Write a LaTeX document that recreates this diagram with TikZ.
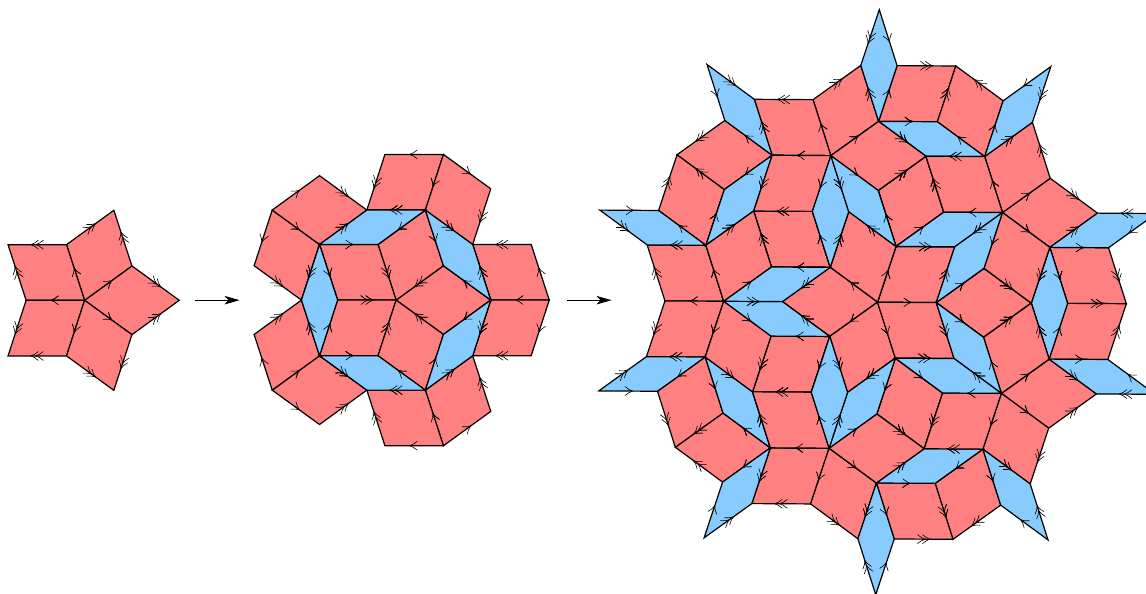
\documentclass[tikz,border=0pt]{standalone}
\usetikzlibrary{arrows.meta}
\definecolor{fatred}{RGB}{255,128,128}
\definecolor{thinblue}{RGB}{136,204,255}
\tikzset{
  tileedge/.style={draw=black,line width=1.2pt,miter limit=10},
  fattile/.style={tileedge,fill=fatred},
  thintile/.style={tileedge,fill=thinblue},
  headline/.style={draw=black,line width=0.6pt,line cap=round},
  stagearrow/.style={draw=black,line width=0.7pt,-{Stealth[length=15pt,width=8.5pt,inset=4pt]}}
}
% one barbed arrow head, its tip at distance #1 (pt) ahead of the origin, pointing along +x
\newcommand\barb[1]{\draw[headline] (#1pt-7.5pt,4.4pt) .. controls (#1pt-5pt,2.2pt) and (#1pt-2.5pt,0.7pt) .. (#1pt,0pt) .. controls (#1pt-2.5pt,-0.7pt) and (#1pt-5pt,-2.2pt) .. (#1pt-7.5pt,-4.4pt);}
\newcommand\sarrow[3]{\begin{scope}[shift={(#1,#2)},rotate=#3]\barb{4.5}\end{scope}}
\newcommand\darrow[3]{\begin{scope}[shift={(#1,#2)},rotate=#3]\barb{6.5}\barb{1.5}\end{scope}}
\newcommand\Fz{%
  \path[fattile] (0,0)--(.809017,.587785)--(1.618034,0)--(.809017,-.587785)--cycle;
  \sarrow{.404508}{.293893}{36}\sarrow{.404508}{-.293893}{-36}%
  \darrow{1.213525}{.293893}{-36}\darrow{1.213525}{-.293893}{36}}
\newcommand\Tz{%
  \path[thintile] (0,0)--(.309017,.951057)--(.618034,0)--(.309017,-.951057)--cycle;
  \sarrow{.154508}{.475528}{252}\sarrow{.154508}{-.475528}{108}%
  \darrow{.463525}{.475528}{-72}\darrow{.463525}{-.475528}{72}}
\newcommand\tileat[4]{\begin{scope}[shift={(#1:#2)},rotate=#3]#4\end{scope}}
\newcommand\subF[3]{%
  \tileat{0}{1.618034*#3}{180}{#1}%
  \tileat{0}{2.618034*#3}{144}{#1}%
  \tileat{0}{2.618034*#3}{-144}{#1}%
  \tileat{36}{#3}{36}{#2}%
  \tileat{-36}{#3}{-36}{#2}}
\newcommand\subT[3]{%
  \tileat{0}{#3}{108}{#1}%
  \tileat{0}{#3}{-108}{#1}%
  \tileat{72}{.618034*#3}{252}{#2}%
  \tileat{-72}{.618034*#3}{-252}{#2}}
\newcommand\Fone{\subF{\Fz}{\Tz}{1}}
\newcommand\Tone{\subT{\Fz}{\Tz}{1}}
\newcommand\Ftwo{\subF{\Fone}{\Tone}{1.618034}}
\newcommand\starof[1]{\foreach \k in {0,1,2,3,4}{\tileat{0}{0}{72*\k}{#1}}}
\begin{document}
\begin{tikzpicture}[x=1pt,y=1pt]
  \useasboundingbox (0,0) rectangle (1146,594);
  \clip (0,0) rectangle (1146,594);
  \begin{scope}[shift={(84.6pt,293.7pt)},x=58.5pt,y=58.5pt]\starof{\Fz}\end{scope}
  \begin{scope}[shift={(396.1pt,293.9pt)},x=58.5pt,y=58.5pt]\starof{\Fone}\end{scope}
  \begin{scope}[shift={(877.5pt,291.8pt)},rotate=-0.35,x=58.75pt,y=58.75pt]\starof{\Ftwo}\end{scope}
  \coordinate (a1) at (195,293.8);
  \coordinate (a2) at (239.5,293.8);
  \coordinate (b1) at (567,293.8);
  \coordinate (b2) at (611.5,293.8);
  \draw[stagearrow] (a1) -- (a2);
  \draw[stagearrow] (b1) -- (b2);
\end{tikzpicture}
\end{document}
